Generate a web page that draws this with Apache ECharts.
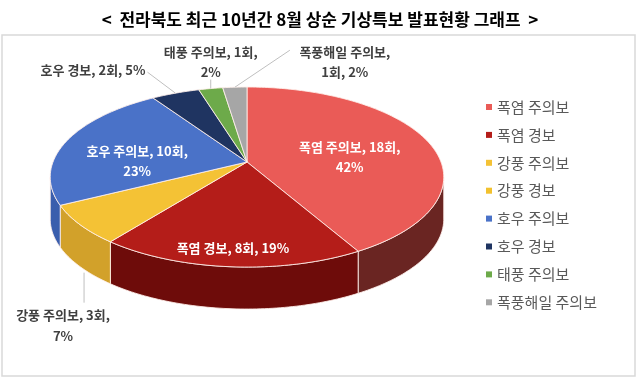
<!DOCTYPE html>
<html><head><meta charset="utf-8">
<script src="https://cdn.jsdelivr.net/npm/echarts@6/dist/echarts.min.js"></script>
<style>html,body{margin:0;padding:0;background:#fff}#c{width:640px;height:381px}</style>
</head><body><div id="c"></div>
<script>
// ---- data ----
const titleText = '<  전라북도 최근 10년간 8월 상순 기상특보 발표현황 그래프  >';
const categories = ['폭염 주의보', '폭염 경보', '강풍 주의보', '강풍 경보', '호우 주의보', '호우 경보', '태풍 주의보', '폭풍해일 주의보'];
const counts = [18, 8, 3, 0, 10, 2, 1, 1];
const unitLabel = '회';

// ---- styles ----
const topColors = ['#EA5B57', '#B41D19', '#F4C235', '#F2C12E', '#4A72C8', '#1F3461', '#6DAA4A', '#A6A6A6'];
const sideColors = ['#6A2522', '#6E0C0A', '#D2A12A', '#D2A12A', '#3A5EAD', '#16264A', '#4E8034', '#7F7F7F'];
const labelCfg = [
  {mode: 'in', k: 0.56, dy: 7, brk: 'count'},
  {mode: 'in', k: 0.85, dy: 0, brk: 'none'},
  {mode: 'below', brk: 'count'},
  null,
  {mode: 'in', k: 0.6, dy: 12, brk: 'count'},
  {mode: 'left', brk: 'none'},
  {mode: 'above', brk: 'count'},
  {mode: 'right', brk: 'name'}
];
const FONT = "'Noto Sans CJK KR', 'Noto Sans', sans-serif";

// ---- 3D pie geometry ----
const CX = 247, CY = 162, R = 194, RY = 87.5, P = 0.167, DEPTH = 42;
const total = counts.reduce((a, b) => a + b, 0);
const cum = [];
counts.reduce((a, v, i) => { cum[i] = a; return a + v; }, 0);

function proj(deg, k, drop) {
  const t = deg * Math.PI / 180;
  const X = k * Math.cos(t), Z = k * Math.sin(t);
  const f = 1 / (1 + P * Z);
  return [CX + R * X * f, CY - RY * Z * f + drop];
}
function arc(a, b, k, drop) {
  const n = Math.max(2, Math.ceil(Math.abs(a - b)));
  const pts = [];
  for (let i = 0; i <= n; i++) pts.push(proj(a + (b - a) * i / n, k, drop));
  return pts;
}
const silDeg = Math.asin(P) * 180 / Math.PI;
const visHi = -silDeg, visLo = -180 + silDeg;

function labelText(i, brk) {
  const v = counts[i];
  const pct = Math.round(v / total * 100);
  const n = categories[i];
  if (brk === 'count') return n + ', ' + v + unitLabel + ',\n' + pct + '%';
  if (brk === 'name') return n + ',\n' + v + unitLabel + ', ' + pct + '%';
  return n + ', ' + v + unitLabel + ', ' + pct + '%';
}

function renderItem(params, api) {
  const i = params.dataIndex;
  const v = api.value(0);
  const children = [];
  if (!v) return {type: 'group', children};
  const s = 90 - cum[i] / total * 360;
  const e = 90 - (cum[i] + v) / total * 360;
  const mid = (s + e) / 2;
  const edge = 'rgba(255,240,235,0.85)';
  // wall
  const a = Math.min(s, visHi), b = Math.max(e, visLo);
  if (a > b) {
    const pts = arc(a, b, 1, 0).concat(arc(b, a, 1, DEPTH));
    children.push({type: 'polygon', z2: 1, shape: {points: pts},
      style: {fill: sideColors[i], stroke: edge, lineWidth: 1}});
  }
  // top face
  const topPts = [[CX, CY]].concat(arc(s, e, 1, 0));
  children.push({type: 'polygon', z2: 10, shape: {points: topPts},
    style: {fill: topColors[i], stroke: edge, lineWidth: 1}});
  // label
  const cfg = labelCfg[i];
  if (cfg) {
    const txt = labelText(i, cfg.brk);
    const base = {fontFamily: FONT, fontSize: 13, fontWeight: 'bold', lineHeight: 20};
    const lineStyle = {stroke: '#BFBFBF', lineWidth: 1, fill: null};
    if (cfg.mode === 'in') {
      const p = proj(mid, cfg.k, 0);
      children.push({type: 'text', z2: 30, style: Object.assign({}, base,
        {text: txt, x: p[0], y: p[1] + cfg.dy, fill: '#FFFFFF', align: 'center', verticalAlign: 'middle'})});
    } else if (cfg.mode === 'below') {
      const p = proj(mid, 1, DEPTH);
      const x = p[0] + 4;
      children.push({type: 'line', z2: 20, shape: {x1: x, y1: p[1] + 6, x2: x, y2: p[1] + 36}, style: lineStyle});
      children.push({type: 'text', z2: 30, style: Object.assign({}, base, {lineHeight: 21,
        text: txt, x: p[0] - 17, y: p[1] + 38, fill: '#404040', align: 'center', verticalAlign: 'top'})});
    } else if (cfg.mode === 'left') {
      const p = proj(mid, 1, 0);
      const ex = p[0] - 28, ey = p[1] - 21;
      children.push({type: 'line', z2: 20, shape: {x1: p[0], y1: p[1], x2: ex, y2: ey}, style: lineStyle});
      children.push({type: 'text', z2: 30, style: Object.assign({}, base,
        {text: txt, x: ex - 2, y: ey - 2, fill: '#404040', align: 'right', verticalAlign: 'middle'})});
    } else if (cfg.mode === 'above') {
      const p = proj(mid, 1, 0);
      const ey = p[1] - 9;
      children.push({type: 'line', z2: 20, shape: {x1: p[0], y1: p[1], x2: p[0], y2: ey}, style: lineStyle});
      children.push({type: 'text', z2: 30, style: Object.assign({}, base,
        {text: txt, x: p[0], y: ey + 2, fill: '#404040', align: 'center', verticalAlign: 'bottom'})});
    } else if (cfg.mode === 'right') {
      const p = proj(mid, 1, 0);
      const ex = p[0] + 55, ey = p[1] - 37;
      children.push({type: 'line', z2: 20, shape: {x1: p[0], y1: p[1], x2: ex, y2: ey}, style: lineStyle});
      children.push({type: 'text', z2: 30, style: Object.assign({}, base,
        {text: txt, x: ex + 55, y: ey - 8, fill: '#404040', align: 'center', verticalAlign: 'top'})});
    }
  }
  return {type: 'group', children};
}

const chart = echarts.init(document.getElementById('c'), null, {renderer: 'canvas'});
chart.setOption({
  animation: false,
  color: topColors,
  title: {text: titleText, left: 'center', top: 6,
    textStyle: {fontFamily: FONT, fontSize: 17, fontWeight: 'bold', color: '#000'}},
  graphic: [{type: 'rect', z: -10, shape: {x: 2, y: 35, width: 633, height: 341},
    style: {fill: 'none', stroke: '#D9D9D9', lineWidth: 1.5}}],
  legend: {orient: 'vertical', left: 481, top: 93, icon: 'rect', itemWidth: 6, itemHeight: 6,
    itemGap: 9.9, selectedMode: false,
    textStyle: {fontFamily: FONT, fontSize: 15, color: '#595959', lineHeight: 18},
    data: categories},
  series: [
    {type: 'pie', silent: true, center: [-200, -200], radius: [0, 1], label: {show: false}, labelLine: {show: false},
      data: categories.map((n, i) => ({name: n, value: counts[i]}))},
    {type: 'custom', coordinateSystem: 'none', renderItem: renderItem, silent: true,
      data: counts}
  ]
});
</script></body></html>
